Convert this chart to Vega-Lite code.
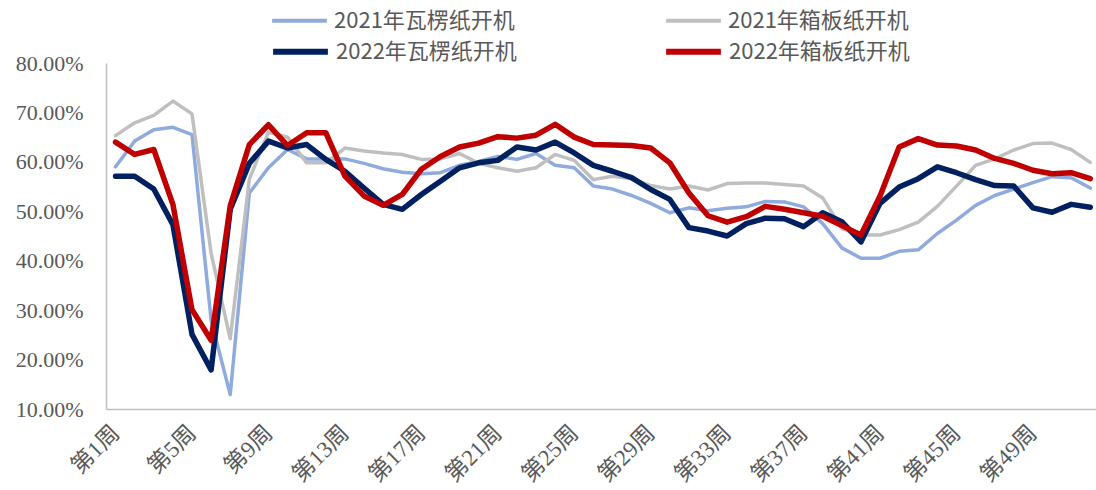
{
  "$schema": "https://vega.github.io/schema/vega-lite/v6.json",
  "autosize": {"type": "none"},
  "width": 990,
  "height": 346,
  "padding": {"left": 106, "top": 63, "right": 0, "bottom": 81},
  "background": "white",
  "config": {
    "view": {"stroke": null},
    "font": "Liberation Serif",
    "legend": {
      "orient": "none",
      "direction": "horizontal",
      "columnPadding": 140,
      "symbolType": "stroke",
      "symbolSize": 3000,
      "labelFont": "Liberation Sans Narrow, Noto Sans CJK SC",
      "labelFontSize": 22,
      "labelColor": "#595959",
      "labelLimit": 400,
      "labelOffset": 5,
      "title": null
    }
  },
  "data": {"values": [
    {"week":1,"series":"2021年瓦楞纸开机","value":59.0},{"week":2,"series":"2021年瓦楞纸开机","value":64.2},{"week":3,"series":"2021年瓦楞纸开机","value":66.5},{"week":4,"series":"2021年瓦楞纸开机","value":67.0},{"week":5,"series":"2021年瓦楞纸开机","value":65.5},{"week":6,"series":"2021年瓦楞纸开机","value":28.0},{"week":7,"series":"2021年瓦楞纸开机","value":12.9},{"week":8,"series":"2021年瓦楞纸开机","value":53.7},{"week":9,"series":"2021年瓦楞纸开机","value":58.8},{"week":10,"series":"2021年瓦楞纸开机","value":62.5},{"week":11,"series":"2021年瓦楞纸开机","value":60.6},{"week":12,"series":"2021年瓦楞纸开机","value":60.6},{"week":13,"series":"2021年瓦楞纸开机","value":60.6},{"week":14,"series":"2021年瓦楞纸开机","value":59.7},{"week":15,"series":"2021年瓦楞纸开机","value":58.6},{"week":16,"series":"2021年瓦楞纸开机","value":57.9},{"week":17,"series":"2021年瓦楞纸开机","value":57.6},{"week":18,"series":"2021年瓦楞纸开机","value":57.8},{"week":19,"series":"2021年瓦楞纸开机","value":59.3},{"week":20,"series":"2021年瓦楞纸开机","value":60.1},{"week":21,"series":"2021年瓦楞纸开机","value":61.1},{"week":22,"series":"2021年瓦楞纸开机","value":60.5},{"week":23,"series":"2021年瓦楞纸开机","value":61.7},{"week":24,"series":"2021年瓦楞纸开机","value":59.3},{"week":25,"series":"2021年瓦楞纸开机","value":58.8},{"week":26,"series":"2021年瓦楞纸开机","value":55.1},{"week":27,"series":"2021年瓦楞纸开机","value":54.5},{"week":28,"series":"2021年瓦楞纸开机","value":53.2},{"week":29,"series":"2021年瓦楞纸开机","value":51.6},{"week":30,"series":"2021年瓦楞纸开机","value":49.7},{"week":31,"series":"2021年瓦楞纸开机","value":50.7},{"week":32,"series":"2021年瓦楞纸开机","value":50.1},{"week":33,"series":"2021年瓦楞纸开机","value":50.6},{"week":34,"series":"2021年瓦楞纸开机","value":50.9},{"week":35,"series":"2021年瓦楞纸开机","value":52.0},{"week":36,"series":"2021年瓦楞纸开机","value":51.9},{"week":37,"series":"2021年瓦楞纸开机","value":50.9},{"week":38,"series":"2021年瓦楞纸开机","value":47.5},{"week":39,"series":"2021年瓦楞纸开机","value":42.6},{"week":40,"series":"2021年瓦楞纸开机","value":40.5},{"week":41,"series":"2021年瓦楞纸开机","value":40.5},{"week":42,"series":"2021年瓦楞纸开机","value":41.9},{"week":43,"series":"2021年瓦楞纸开机","value":42.2},{"week":44,"series":"2021年瓦楞纸开机","value":45.5},{"week":45,"series":"2021年瓦楞纸开机","value":48.2},{"week":46,"series":"2021年瓦楞纸开机","value":51.2},{"week":47,"series":"2021年瓦楞纸开机","value":53.2},{"week":48,"series":"2021年瓦楞纸开机","value":54.5},{"week":49,"series":"2021年瓦楞纸开机","value":55.8},{"week":50,"series":"2021年瓦楞纸开机","value":57.0},{"week":51,"series":"2021年瓦楞纸开机","value":56.8},{"week":52,"series":"2021年瓦楞纸开机","value":54.7},
    {"week":1,"series":"2021年箱板纸开机","value":65.3},{"week":2,"series":"2021年箱板纸开机","value":67.9},{"week":3,"series":"2021年箱板纸开机","value":69.4},{"week":4,"series":"2021年箱板纸开机","value":72.3},{"week":5,"series":"2021年箱板纸开机","value":69.7},{"week":6,"series":"2021年箱板纸开机","value":41.5},{"week":7,"series":"2021年箱板纸开机","value":24.2},{"week":8,"series":"2021年箱板纸开机","value":56.5},{"week":9,"series":"2021年箱板纸开机","value":66.0},{"week":10,"series":"2021年箱板纸开机","value":65.0},{"week":11,"series":"2021年箱板纸开机","value":59.8},{"week":12,"series":"2021年箱板纸开机","value":59.8},{"week":13,"series":"2021年箱板纸开机","value":62.8},{"week":14,"series":"2021年箱板纸开机","value":62.2},{"week":15,"series":"2021年箱板纸开机","value":61.8},{"week":16,"series":"2021年箱板纸开机","value":61.5},{"week":17,"series":"2021年箱板纸开机","value":60.5},{"week":18,"series":"2021年箱板纸开机","value":60.6},{"week":19,"series":"2021年箱板纸开机","value":61.7},{"week":20,"series":"2021年箱板纸开机","value":59.7},{"week":21,"series":"2021年箱板纸开机","value":58.8},{"week":22,"series":"2021年箱板纸开机","value":58.1},{"week":23,"series":"2021年箱板纸开机","value":58.8},{"week":24,"series":"2021年箱板纸开机","value":61.5},{"week":25,"series":"2021年箱板纸开机","value":60.3},{"week":26,"series":"2021年箱板纸开机","value":56.4},{"week":27,"series":"2021年箱板纸开机","value":57.1},{"week":28,"series":"2021年箱板纸开机","value":56.6},{"week":29,"series":"2021年箱板纸开机","value":55.2},{"week":30,"series":"2021年箱板纸开机","value":54.5},{"week":31,"series":"2021年箱板纸开机","value":55.1},{"week":32,"series":"2021年箱板纸开机","value":54.3},{"week":33,"series":"2021年箱板纸开机","value":55.6},{"week":34,"series":"2021年箱板纸开机","value":55.7},{"week":35,"series":"2021年箱板纸开机","value":55.7},{"week":36,"series":"2021年箱板纸开机","value":55.4},{"week":37,"series":"2021年箱板纸开机","value":55.1},{"week":38,"series":"2021年箱板纸开机","value":52.7},{"week":39,"series":"2021年箱板纸开机","value":46.5},{"week":40,"series":"2021年箱板纸开机","value":45.2},{"week":41,"series":"2021年箱板纸开机","value":45.2},{"week":42,"series":"2021年箱板纸开机","value":46.3},{"week":43,"series":"2021年箱板纸开机","value":47.8},{"week":44,"series":"2021年箱板纸开机","value":51.0},{"week":45,"series":"2021年箱板纸开机","value":55.1},{"week":46,"series":"2021年箱板纸开机","value":59.3},{"week":47,"series":"2021年箱板纸开机","value":60.6},{"week":48,"series":"2021年箱板纸开机","value":62.4},{"week":49,"series":"2021年箱板纸开机","value":63.7},{"week":50,"series":"2021年箱板纸开机","value":63.8},{"week":51,"series":"2021年箱板纸开机","value":62.5},{"week":52,"series":"2021年箱板纸开机","value":59.9},
    {"week":1,"series":"2022年瓦楞纸开机","value":57.1},{"week":2,"series":"2022年瓦楞纸开机","value":57.1},{"week":3,"series":"2022年瓦楞纸开机","value":54.5},{"week":4,"series":"2022年瓦楞纸开机","value":47.3},{"week":5,"series":"2022年瓦楞纸开机","value":25.1},{"week":6,"series":"2022年瓦楞纸开机","value":17.9},{"week":7,"series":"2022年瓦楞纸开机","value":50.4},{"week":8,"series":"2022年瓦楞纸开机","value":59.7},{"week":9,"series":"2022年瓦楞纸开机","value":64.2},{"week":10,"series":"2022年瓦楞纸开机","value":62.8},{"week":11,"series":"2022年瓦楞纸开机","value":63.5},{"week":12,"series":"2022年瓦楞纸开机","value":60.5},{"week":13,"series":"2022年瓦楞纸开机","value":58.1},{"week":14,"series":"2022年瓦楞纸开机","value":54.7},{"week":15,"series":"2022年瓦楞纸开机","value":51.4},{"week":16,"series":"2022年瓦楞纸开机","value":50.4},{"week":17,"series":"2022年瓦楞纸开机","value":53.4},{"week":18,"series":"2022年瓦楞纸开机","value":56.1},{"week":19,"series":"2022年瓦楞纸开机","value":58.8},{"week":20,"series":"2022年瓦楞纸开机","value":59.8},{"week":21,"series":"2022年瓦楞纸开机","value":60.3},{"week":22,"series":"2022年瓦楞纸开机","value":63.0},{"week":23,"series":"2022年瓦楞纸开机","value":62.4},{"week":24,"series":"2022年瓦楞纸开机","value":64.0},{"week":25,"series":"2022年瓦楞纸开机","value":61.8},{"week":26,"series":"2022年瓦楞纸开机","value":59.3},{"week":27,"series":"2022年瓦楞纸开机","value":58.1},{"week":28,"series":"2022年瓦楞纸开机","value":56.8},{"week":29,"series":"2022年瓦楞纸开机","value":54.4},{"week":30,"series":"2022年瓦楞纸开机","value":52.4},{"week":31,"series":"2022年瓦楞纸开机","value":46.7},{"week":32,"series":"2022年瓦楞纸开机","value":46.0},{"week":33,"series":"2022年瓦楞纸开机","value":45.0},{"week":34,"series":"2022年瓦楞纸开机","value":47.5},{"week":35,"series":"2022年瓦楞纸开机","value":48.6},{"week":36,"series":"2022年瓦楞纸开机","value":48.5},{"week":37,"series":"2022年瓦楞纸开机","value":46.9},{"week":38,"series":"2022年瓦楞纸开机","value":49.7},{"week":39,"series":"2022年瓦楞纸开机","value":47.9},{"week":40,"series":"2022年瓦楞纸开机","value":43.8},{"week":41,"series":"2022年瓦楞纸开机","value":51.6},{"week":42,"series":"2022年瓦楞纸开机","value":54.9},{"week":43,"series":"2022年瓦楞纸开机","value":56.6},{"week":44,"series":"2022年瓦楞纸开机","value":59.0},{"week":45,"series":"2022年瓦楞纸开机","value":57.8},{"week":46,"series":"2022年瓦楞纸开机","value":56.4},{"week":47,"series":"2022年瓦楞纸开机","value":55.2},{"week":48,"series":"2022年瓦楞纸开机","value":55.1},{"week":49,"series":"2022年瓦楞纸开机","value":50.7},{"week":50,"series":"2022年瓦楞纸开机","value":49.8},{"week":51,"series":"2022年瓦楞纸开机","value":51.4},{"week":52,"series":"2022年瓦楞纸开机","value":50.8},
    {"week":1,"series":"2022年箱板纸开机","value":64.0},{"week":2,"series":"2022年箱板纸开机","value":61.5},{"week":3,"series":"2022年箱板纸开机","value":62.5},{"week":4,"series":"2022年箱板纸开机","value":51.4},{"week":5,"series":"2022年箱板纸开机","value":30.1},{"week":6,"series":"2022年箱板纸开机","value":23.9},{"week":7,"series":"2022年箱板纸开机","value":51.1},{"week":8,"series":"2022年箱板纸开机","value":63.5},{"week":9,"series":"2022年箱板纸开机","value":67.5},{"week":10,"series":"2022年箱板纸开机","value":63.3},{"week":11,"series":"2022年箱板纸开机","value":65.9},{"week":12,"series":"2022年箱板纸开机","value":65.9},{"week":13,"series":"2022年箱板纸开机","value":57.1},{"week":14,"series":"2022年箱板纸开机","value":53.1},{"week":15,"series":"2022年箱板纸开机","value":51.2},{"week":16,"series":"2022年箱板纸开机","value":53.4},{"week":17,"series":"2022年箱板纸开机","value":58.5},{"week":18,"series":"2022年箱板纸开机","value":61.1},{"week":19,"series":"2022年箱板纸开机","value":63.0},{"week":20,"series":"2022年箱板纸开机","value":63.8},{"week":21,"series":"2022年箱板纸开机","value":65.1},{"week":22,"series":"2022年箱板纸开机","value":64.8},{"week":23,"series":"2022年箱板纸开机","value":65.4},{"week":24,"series":"2022年箱板纸开机","value":67.6},{"week":25,"series":"2022年箱板纸开机","value":65.0},{"week":26,"series":"2022年箱板纸开机","value":63.5},{"week":27,"series":"2022年箱板纸开机","value":63.4},{"week":28,"series":"2022年箱板纸开机","value":63.3},{"week":29,"series":"2022年箱板纸开机","value":62.8},{"week":30,"series":"2022年箱板纸开机","value":59.8},{"week":31,"series":"2022年箱板纸开机","value":53.7},{"week":32,"series":"2022年箱板纸开机","value":49.1},{"week":33,"series":"2022年箱板纸开机","value":47.8},{"week":34,"series":"2022年箱板纸开机","value":48.9},{"week":35,"series":"2022年箱板纸开机","value":51.0},{"week":36,"series":"2022年箱板纸开机","value":50.4},{"week":37,"series":"2022年箱板纸开机","value":49.7},{"week":38,"series":"2022年箱板纸开机","value":49.0},{"week":39,"series":"2022年箱板纸开机","value":47.1},{"week":40,"series":"2022年箱板纸开机","value":45.2},{"week":41,"series":"2022年箱板纸开机","value":53.1},{"week":42,"series":"2022年箱板纸开机","value":63.0},{"week":43,"series":"2022年箱板纸开机","value":64.7},{"week":44,"series":"2022年箱板纸开机","value":63.4},{"week":45,"series":"2022年箱板纸开机","value":63.2},{"week":46,"series":"2022年箱板纸开机","value":62.4},{"week":47,"series":"2022年箱板纸开机","value":60.7},{"week":48,"series":"2022年箱板纸开机","value":59.7},{"week":49,"series":"2022年箱板纸开机","value":58.3},{"week":50,"series":"2022年箱板纸开机","value":57.6},{"week":51,"series":"2022年箱板纸开机","value":57.8},{"week":52,"series":"2022年箱板纸开机","value":56.6}
  ]},
  "encoding": {
    "x": {
      "field": "week",
      "type": "quantitative",
      "scale": {"domain": [0.5, 52.3], "nice": false, "zero": false},
      "axis": {
        "title": null,
        "values": [1, 5, 9, 13, 17, 21, 25, 29, 33, 37, 41, 45, 49],
        "labelExpr": "'第' + datum.value + '周'",
        "labelAngle": -45,
        "labelAlign": "right",
        "labelBaseline": "middle",
        "labelPadding": 20,
        "labelFont": "Liberation Serif, Noto Sans CJK SC",
        "labelFontSize": 23,
        "labelColor": "#595959",
        "labelOverlap": false,
        "ticks": false,
        "grid": false,
        "domainColor": "#BFBFBF",
        "domainWidth": 1.5
      }
    },
    "y": {
      "field": "value",
      "type": "quantitative",
      "scale": {"domain": [10, 80], "nice": false, "zero": false},
      "axis": {
        "title": null,
        "values": [10, 20, 30, 40, 50, 60, 70, 80],
        "labelExpr": "format(datum.value, '.2f') + '%'",
        "labelFont": "Liberation Serif",
        "labelFontSize": 22,
        "labelColor": "#595959",
        "labelPadding": 23,
        "ticks": false,
        "grid": false,
        "domainColor": "#BFBFBF",
        "domainWidth": 1.5
      }
    }
  },
  "layer": [
    {
      "transform": [{"filter": "indexof(datum.series, '2021') == 0"}],
      "mark": {"type": "line", "strokeWidth": 3.5, "strokeJoin": "round", "strokeCap": "round"},
      "encoding": {
        "color": {
          "field": "series",
          "type": "nominal",
          "scale": {"domain": ["2021年瓦楞纸开机", "2021年箱板纸开机"], "range": ["#8FAADC", "#BFBFBF"]},
          "legend": {"legendX": 164, "legendY": -72, "symbolStrokeWidth": 4, "columnPadding": 143}
        }
      }
    },
    {
      "transform": [{"filter": "indexof(datum.series, '2022') == 0"}],
      "mark": {"type": "line", "strokeWidth": 5.5, "strokeJoin": "round", "strokeCap": "round"},
      "encoding": {
        "color": {
          "field": "series",
          "type": "nominal",
          "scale": {"domain": ["2022年瓦楞纸开机", "2022年箱板纸开机"], "range": ["#002060", "#C00000"]},
          "legend": {"legendX": 164, "legendY": -42, "symbolStrokeWidth": 6, "columnPadding": 137}
        }
      }
    }
  ],
  "resolve": {"scale": {"color": "independent"}, "legend": {"color": "independent"}}
}
